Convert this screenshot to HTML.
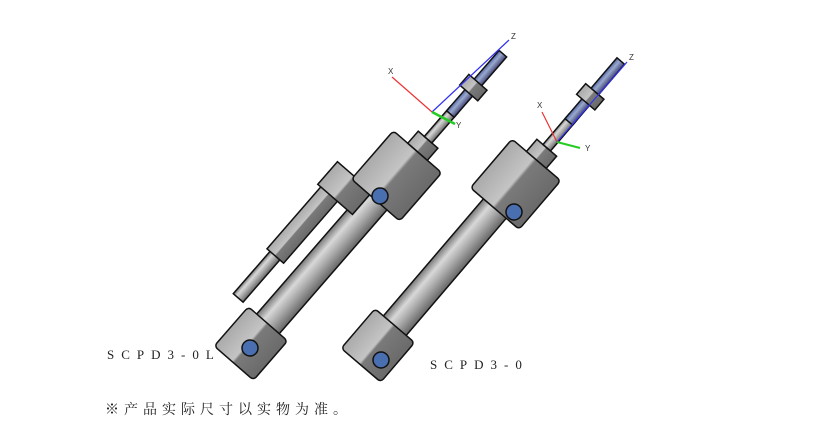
<!DOCTYPE html>
<html><head><meta charset="utf-8"><style>
body{margin:0;background:#fff;width:840px;height:436px;overflow:hidden}
.t{position:absolute;font-family:"Liberation Serif","Noto Serif CJK SC",serif;color:#222}
</style></head><body>
<svg width="840" height="436" style="position:absolute;left:0;top:0">
<defs>
<linearGradient id="tube" x1="0" y1="0" x2="0" y2="1">
<stop offset="0" stop-color="#777"/><stop offset=".3" stop-color="#d8d8d8"/><stop offset=".6" stop-color="#aaa"/><stop offset="1" stop-color="#666"/></linearGradient>
<linearGradient id="blk" x1="0" y1="0" x2="0" y2="1">
<stop offset="0" stop-color="#aaa"/><stop offset=".45" stop-color="#c4c4c4"/><stop offset=".5" stop-color="#7a7a7a"/><stop offset="1" stop-color="#6a6a6a"/></linearGradient>
<linearGradient id="thr" x1="0" y1="0" x2="0" y2="1">
<stop offset="0" stop-color="#56a"/><stop offset=".4" stop-color="#9ac"/><stop offset="1" stop-color="#447"/></linearGradient>
</defs>
<g stroke="#111" stroke-width="1.5">
<g transform="translate(374,350) rotate(-49.5)">
<rect x="30" y="-15" width="160" height="30" fill="url(#tube)"/>
<rect x="-20" y="-26" width="52" height="52" rx="4" fill="url(#blk)"/>
<rect x="186" y="-32" width="64" height="64" rx="4" fill="url(#blk)"/>
<rect x="250" y="-13" width="16" height="26" fill="url(#blk)"/>
<rect x="266" y="-5" width="40" height="10" fill="url(#tube)"/>
<rect x="300" y="-5" width="80" height="10" fill="url(#thr)"/>
<rect x="326" y="-12" width="14" height="24" fill="url(#blk)"/>
</g>
<g transform="translate(247,348) rotate(-49)">
<rect x="32" y="-46" width="60" height="13" fill="url(#tube)"/>
<rect x="88" y="-50" width="100" height="22" fill="url(#blk)"/>
<rect x="30" y="-15" width="170" height="30" fill="url(#tube)"/>
<rect x="170" y="-54" width="30" height="46" fill="url(#blk)"/>
<rect x="-20" y="-26" width="52" height="52" rx="4" fill="url(#blk)"/>
<rect x="196" y="-32" width="64" height="64" rx="4" fill="url(#blk)"/>
<rect x="260" y="-13" width="16" height="26" fill="url(#blk)"/>
<rect x="276" y="-5" width="40" height="10" fill="url(#tube)"/>
<rect x="310" y="-5" width="80" height="10" fill="url(#thr)"/>
<rect x="338" y="-12" width="14" height="24" fill="url(#blk)"/>
</g>
</g>
<g fill="#4a6fb0" stroke="#111" stroke-width="1.5">
<circle cx="380" cy="196" r="8"/><circle cx="514" cy="212" r="8"/>
<circle cx="250" cy="348" r="8"/><circle cx="381" cy="360" r="8"/>
</g>
<g stroke-width="1.2">
<line x1="432" y1="112" x2="392" y2="77" stroke="#e33"/>
<line x1="432" y1="112" x2="509" y2="40" stroke="#33e"/>
<line x1="432" y1="112" x2="455" y2="124" stroke="#2c2" stroke-width="2.5"/>
<line x1="557" y1="142" x2="542" y2="112" stroke="#e33"/>
<line x1="557" y1="142" x2="627" y2="62" stroke="#33e"/>
<line x1="557" y1="142" x2="580" y2="148" stroke="#2c2" stroke-width="2"/>
</g>
<g font-family="Liberation Sans,sans-serif" font-size="8" fill="#333">
<text x="388" y="74">X</text><text x="511" y="39">Z</text><text x="456" y="128">Y</text>
<text x="537" y="108">X</text><text x="629" y="60">Z</text><text x="585" y="151">Y</text>
</g>
</svg>
<div class="t" style="left:107px;top:347px;font-size:13px;letter-spacing:7px">SCPD3-0L</div>
<div class="t" style="left:430px;top:357px;font-size:13px;letter-spacing:7px">SCPD3-0</div>
<div class="t" style="left:105px;top:399px;font-size:14px;letter-spacing:5px">※产品实际尺寸以实物为准。</div>
</body></html>
